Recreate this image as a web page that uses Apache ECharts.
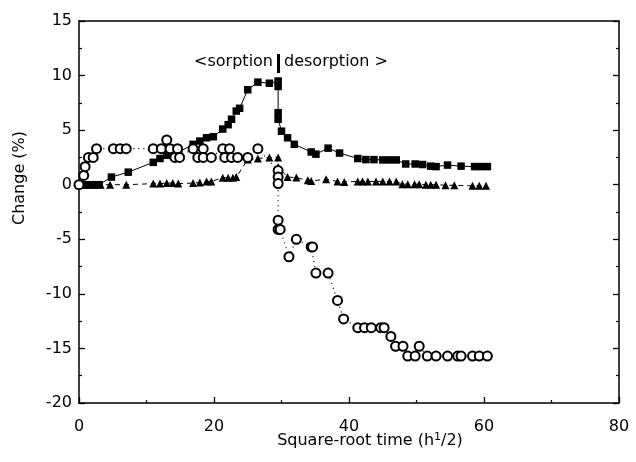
<!DOCTYPE html>
<html>
<head>
<meta charset="utf-8">
<script src="https://cdn.jsdelivr.net/npm/echarts@6/dist/echarts.min.js"></script>
<style>
html,body{margin:0;padding:0;background:#fff;}
#main{width:636px;height:462px;}
</style>
</head>
<body>
<div id="main"></div>
<script>
// filled squares (solid line)
var sqX = [0,0.6,1.2,1.8,2.4,3.0,4.8,7.3,11,12,13,14,14.8,16.9,17.9,18.9,19.9,21.3,22.1,22.6,23.3,23.8,25,26.5,28.2,29.5,29.5,29.5,29.5,30,30.9,31.9,34.4,35.1,36.9,38.6,41.3,42.5,43.7,45,46,47,48.4,49.8,50.9,52.1,52.9,54.6,56.6,58.6,59.5,60.5];
var sqY = [0,0,0,0,0,0,0.7,1.15,2.05,2.4,2.7,2.9,3.0,3.7,4.0,4.3,4.4,5.1,5.5,6.0,6.75,7.0,8.7,9.4,9.3,9.5,9.0,6.6,6.0,4.9,4.3,3.7,3.0,2.8,3.35,2.9,2.4,2.3,2.3,2.27,2.27,2.27,1.9,1.9,1.85,1.7,1.66,1.8,1.7,1.66,1.66,1.66];
// filled triangles (dashed line)
var triX = [0,0.8,1.6,2.4,3.2,4.6,7.0,11,12,13,13.9,14.7,16.9,17.9,18.9,19.6,21.3,22.1,22.8,23.3,25,26.5,28.2,29.5,29.5,30.9,32.2,33.9,34.4,36.6,38.3,39.3,41.3,42,42.8,44,45,46,47,47.9,48.7,49.7,50.4,51.4,52.1,52.9,54.3,55.6,58.3,59.3,60.3];
var triY = [0,0,0,0,0,0,0,0.1,0.1,0.15,0.15,0.1,0.15,0.2,0.3,0.3,0.64,0.64,0.64,0.7,2.3,2.4,2.5,2.5,1.6,0.7,0.65,0.4,0.35,0.5,0.3,0.25,0.3,0.3,0.3,0.3,0.3,0.3,0.3,0.05,0.05,0.05,0.05,0,0,0,-0.05,-0.05,-0.1,-0.1,-0.1];
// open circles (dotted line)
var circX = [0,0.7,0.9,1.4,2.1,2.6,5.1,6.1,7.0,11,12.2,13,13.5,14.2,14.6,14.9,16.9,17.6,18.4,18.4,19.6,21.3,21.6,22.3,22.6,23.5,25,26.5,29.5,29.5,29.5,29.5,29.5,29.8,31.1,32.2,34.4,34.6,35.1,36.9,38.3,39.2,41.3,42.3,43.3,44.7,45.2,46.2,46.9,48.0,48.7,49.8,50.4,51.6,52.9,54.6,56.1,56.6,58.3,59.3,60.5];
var circY = [0,0.85,1.65,2.5,2.5,3.3,3.3,3.3,3.3,3.3,3.3,4.1,3.3,2.5,3.3,2.5,3.3,2.5,3.3,2.5,2.5,3.3,2.5,3.3,2.5,2.5,2.5,3.3,1.3,0.7,0.1,-3.25,-4.1,-4.1,-6.6,-5.0,-5.7,-5.7,-8.1,-8.1,-10.6,-12.3,-13.1,-13.1,-13.1,-13.1,-13.1,-13.9,-14.8,-14.8,-15.7,-15.7,-14.8,-15.7,-15.7,-15.7,-15.7,-15.7,-15.7,-15.7,-15.7];

var xTicks = [0,20,40,60,80];
var yTicks = [-20,-15,-10,-5,0,5,10,15];

function zip(xs, ys){
	var out = [];
	for(var i=0;i<xs.length;i++){ out.push([xs[i], ys[i]]); }
	return out;
}

var chart = echarts.init(document.getElementById('main'));
var font = 'DejaVu Sans';
var axisCommon = {
	axisLine: {show:true, onZero:false, lineStyle:{color:'#000', width:1.5}},
	splitLine: {show:false},
	minorSplitLine: {show:false}
};

var option = {
	animation: false,
	backgroundColor: '#fff',
	grid: {left:79, right:17, top:21, bottom:59},
	xAxis: [
		echarts.util.merge({
			type:'value', min:xTicks[0], max:xTicks[xTicks.length-1], interval:20,
			axisTick:{show:true, inside:true, length:6, lineStyle:{color:'#000', width:1.3}},
			minorTick:{show:true, splitNumber:2, length:3, lineStyle:{color:'#000', width:1.2}},
			axisLabel:{fontFamily:font, fontSize:16, color:'#000', margin:16}
		}, axisCommon, true),
		echarts.util.merge({
			type:'value', position:'top', min:0, max:80,
			axisTick:{show:false}, axisLabel:{show:false}
		}, axisCommon, true)
	],
	yAxis: [
		echarts.util.merge({
			type:'value', min:yTicks[0], max:yTicks[yTicks.length-1], interval:5,
			axisTick:{show:true, inside:true, length:6, lineStyle:{color:'#000', width:1.3}},
			minorTick:{show:true, splitNumber:2, length:3, lineStyle:{color:'#000', width:1.2}},
			axisLabel:{fontFamily:font, fontSize:16, color:'#000', margin:7}
		}, axisCommon, true),
		echarts.util.merge({
			type:'value', position:'right', min:-20, max:15, interval:5,
			axisTick:{show:true, inside:true, length:6, lineStyle:{color:'#000', width:1.3}},
			minorTick:{show:true, splitNumber:2, length:3, lineStyle:{color:'#000', width:1.2}},
			axisLabel:{show:false}
		}, axisCommon, true)
	],
	series: [
		{
			type:'line', data:zip(triX, triY), symbol:'triangle', symbolSize:8,
			itemStyle:{color:'#000'},
			lineStyle:{color:'#000', width:1, type:[5,4]}, z:2
		},
		{
			type:'line', data:zip(sqX, sqY), symbol:'rect', symbolSize:7.5,
			itemStyle:{color:'#000'},
			lineStyle:{color:'#000', width:1}, z:3
		},
		{
			type:'line', data:zip(circX, circY), symbol:'circle', symbolSize:9,
			itemStyle:{color:'#fff', borderColor:'#000', borderWidth:2},
			lineStyle:{color:'#000', width:1.2, type:[1,4]}, z:4
		}
	],
	graphic: [
		{type:'text', x:273, y:62, style:{text:'<sorption', font:'16px "DejaVu Sans"', fill:'#000', align:'right', verticalAlign:'middle'}},
		{type:'rect', shape:{x:277, y:54, width:3, height:19}, style:{fill:'#000'}},
		{type:'text', x:284, y:62, style:{text:'desorption >', font:'16px "DejaVu Sans"', fill:'#000', align:'left', verticalAlign:'middle'}},
		{type:'text', x:20, y:178, rotation:Math.PI/2, style:{text:'Change (%)', font:'16px "DejaVu Sans"', fill:'#000', align:'center', verticalAlign:'middle'}},
		{type:'text', x:370, y:441, style:{
			rich:{
				n:{font:'16px "DejaVu Sans"', fill:'#000'},
				s:{font:'11px "DejaVu Sans"', fill:'#000', verticalAlign:'top', padding:[0,0,8,0]}
			},
			text:'{n|Square-root time (h}{s|1}{n|/2)}', align:'center', verticalAlign:'middle'}}
	]
};
chart.setOption(option);
</script>
</body>
</html>
